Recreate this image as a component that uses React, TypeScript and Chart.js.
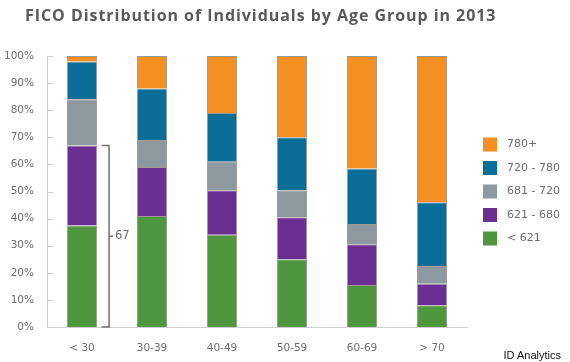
import React, { useEffect, useRef } from "react";
import { Chart, registerables } from "chart.js";

Chart.register(...registerables);

const categories = ["< 30", "30-39", "40-49", "50-59", "60-69", "> 70"];
const seriesLabels = ["< 621", "621 - 680", "681 - 720", "720 - 780", "780+"];
const below621 = [37.5, 41, 34, 25, 15.5, 8];
const s621to680 = [29.5, 18, 16.5, 15.5, 15, 8];
const s681to720 = [17, 10, 10.5, 10, 7.5, 6.5];
const s720to780 = [14, 19, 18, 19.5, 20.5, 23.5];
const s780plus = [2, 12, 21, 30, 41.5, 54];
const seriesColors = ["#4E973F", "#6B2E92", "#8E989F", "#0B6E99", "#F39021"];
const yTicks = [0, 10, 20, 30, 40, 50, 60, 70, 80, 90, 100];

const FONT = "'DejaVu Sans', sans-serif";
const TITLE_FONT = "'Open Sans', sans-serif";
const GRAY = "#6d6e71";

const extrasPlugin = {
  id: "extras",
  afterDraw(chart: any) {
    const ctx = chart.ctx;
    const y = chart.scales.y;
    const area = chart.chartArea;
    ctx.save();
    // inner tick marks on y axis
    ctx.strokeStyle = "#d0d0d0";
    ctx.lineWidth = 1;
    y.ticks.forEach((_t: any, i: number) => {
      const py = Math.round(y.getPixelForTick(i)) + 0.5;
      ctx.beginPath();
      ctx.moveTo(area.left, py);
      ctx.lineTo(area.left + 6, py);
      ctx.stroke();
    });
    // bracket on first bar for the two lowest bands
    const el = chart.getDatasetMeta(0).data[0];
    const total = below621[0] + s621to680[0];
    const right = el.x + el.width / 2;
    const top = y.getPixelForValue(total);
    const bottom = y.getPixelForValue(0);
    const bx = right + 12;
    ctx.strokeStyle = "#707070";
    ctx.lineWidth = 1.5;
    ctx.beginPath();
    ctx.moveTo(right + 4.5, top);
    ctx.lineTo(bx, top);
    ctx.lineTo(bx, bottom);
    ctx.lineTo(right + 4.5, bottom);
    ctx.stroke();
    const mid = (top + bottom) / 2;
    ctx.beginPath();
    ctx.moveTo(bx, mid);
    ctx.lineTo(bx + 4, mid);
    ctx.stroke();
    ctx.fillStyle = GRAY;
    ctx.font = `11.5px ${FONT}`;
    ctx.textAlign = "left";
    ctx.textBaseline = "middle";
    ctx.fillText(String(Math.round(total)), bx + 6, mid);
    // legend (reverse order, top = highest band)
    const ds = chart.data.datasets;
    const lx = area.right + 16;
    const step = 23.5;
    const n = ds.length;
    const cy = (area.top + area.bottom) / 2;
    const startY = cy - ((n - 1) * step) / 2;
    ctx.font = `11px ${FONT}`;
    for (let k = 0; k < n; k++) {
      const d = ds[n - 1 - k];
      const yy = startY + k * step;
      ctx.fillStyle = d.backgroundColor;
      ctx.fillRect(lx, yy - 7, 14, 14);
      ctx.fillStyle = GRAY;
      ctx.fillText(d.label, lx + 24, yy);
    }
    ctx.restore();
  },
};

export default function App() {
  const ref = useRef<HTMLCanvasElement>(null);
  useEffect(() => {
    const series = [below621, s621to680, s681to720, s720to780, s780plus];
    const chart = new Chart(ref.current!, {
      type: "bar",
      data: {
        labels: categories,
        datasets: series.map((data, i) => ({
          label: seriesLabels[i],
          data,
          backgroundColor: seriesColors[i],
          borderColor: "rgba(80,70,60,0.55)",
          borderWidth: 1,
          categoryPercentage: 1,
          barPercentage: 0.43,
        })),
      },
      options: {
        animation: false,
        responsive: false,
        maintainAspectRatio: false,
        layout: { padding: { left: 4, right: 103, top: 56, bottom: 0 } },
        plugins: {
          legend: { display: false },
          tooltip: { enabled: false },
          title: { display: false },
        },
        scales: {
          x: {
            stacked: true,
            afterFit: (scale: any) => {
              scale.height = 35;
            },
            grid: { display: false, drawTicks: false },
            border: { display: true, color: "#d0d0d0", width: 1 },
            ticks: { color: GRAY, font: { family: FONT, size: 10.5 }, padding: 15 },
          },
          y: {
            stacked: true,
            min: 0,
            max: 100,
            afterFit: (scale: any) => {
              scale.width = 43;
            },
            afterBuildTicks: (scale: any) => {
              scale.ticks = yTicks.map((v) => ({ value: v }));
            },
            grid: { display: false, drawTicks: false },
            border: { display: true, color: "#d0d0d0", width: 1 },
            ticks: {
              color: GRAY,
              font: { family: FONT, size: 10.5 },
              padding: 13,
              callback: (v: any) => `${v}%`,
            },
          },
        },
      },
      plugins: [extrasPlugin],
    });
    return () => chart.destroy();
  }, []);

  return (
    <div style={{ position: "fixed", left: 0, top: 0, width: 570, height: 362, background: "#fff" }}>
      <div
        style={{
          position: "absolute",
          left: 25,
          top: 3,
          fontFamily: TITLE_FONT,
          fontWeight: 700,
          fontSize: 16,
          letterSpacing: "0.95px",
          color: "#58595b",
          whiteSpace: "nowrap",
          lineHeight: "24px",
        }}
      >
        FICO Distribution of Individuals by Age Group in 2013
      </div>
      <canvas ref={ref} width={570} height={362} style={{ display: "block" }} />
      <div
        style={{
          position: "absolute",
          right: 9,
          top: 347,
          fontFamily: "'Liberation Sans', Arial, sans-serif",
          fontSize: 11,
          color: "#111",
          lineHeight: "16px",
        }}
      >
        ID Analytics
      </div>
    </div>
  );
}
